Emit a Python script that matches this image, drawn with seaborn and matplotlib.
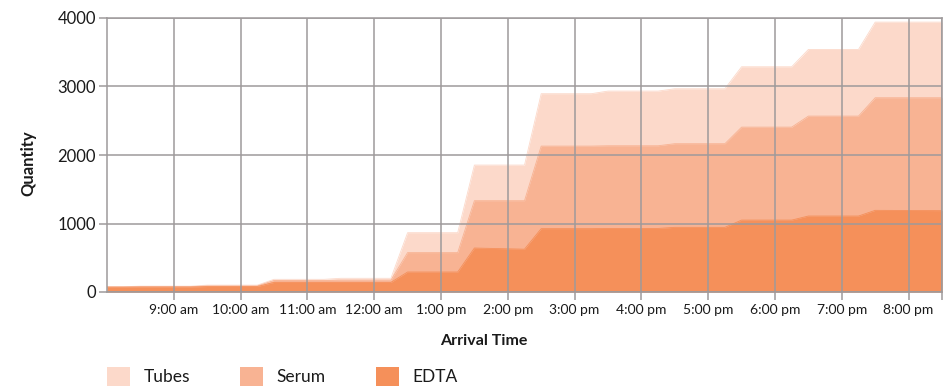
import matplotlib
matplotlib.use("Agg")
import matplotlib.pyplot as plt
from matplotlib.patches import Patch
import pandas as pd
import seaborn as sns

# Cumulative arrivals by time of day
times = ["08:00", "08:15", "08:30", "09:15", "09:30", "10:15", "10:30",
         "11:15", "11:30", "12:15", "12:30", "13:15", "13:30", "14:15",
         "14:30", "15:15", "15:30", "16:15", "16:30", "17:15", "17:30",
         "18:15", "18:30", "19:15", "19:30", "20:30"]
tubes = [78, 78, 85, 85, 100, 100, 185, 185, 200, 200, 866, 866, 1853, 1853,
         2895, 2895, 2933, 2933, 2967, 2967, 3288, 3288, 3541, 3541, 3940, 3940]
serum = [74, 74, 78, 78, 88, 88, 168, 168, 172, 172, 575, 575, 1333, 1333,
         2130, 2130, 2135, 2135, 2165, 2165, 2407, 2407, 2568, 2568, 2836, 2836]
edta = [70, 70, 72, 72, 80, 80, 140, 140, 140, 140, 292, 292, 642, 625,
        925, 925, 928, 928, 944, 944, 1050, 1050, 1109, 1109, 1192, 1188]

tick_hours = [9, 10, 11, 12, 13, 14, 15, 16, 17, 18, 19, 20]
tick_labels = ["9:00 am", "10:00 am", "11:00 am", "12:00 am", "1:00 pm",
               "2:00 pm", "3:00 pm", "4:00 pm", "5:00 pm", "6:00 pm",
               "7:00 pm", "8:00 pm"]
y_ticks = [0, 1000, 2000, 3000, 4000]

series_names = ["Tubes", "Serum", "EDTA"]
colors = {"Tubes": "#FCD9CA", "Serum": "#F8B393", "EDTA": "#F5905A"}

df = pd.DataFrame({"time": times, "Tubes": tubes, "Serum": serum, "EDTA": edta})
td = pd.to_timedelta(df["time"] + ":00")
df["hour"] = td.dt.total_seconds() / 3600.0

sns.set_theme(style="white")
plt.rcParams["font.family"] = ["Lato", "DejaVu Sans"]

fig = plt.figure(figsize=(9.47, 3.87), dpi=100)
ax = fig.add_axes([107 / 947, 1 - 292 / 387, 835 / 947, 274 / 387])

grid_color = "#9E9A9B"

for name in series_names:
    sns.lineplot(data=df, x="hour", y=name, ax=ax, color=colors[name],
                 linewidth=0.6, zorder=2)
    ax.fill_between(df["hour"], 0, df[name], color=colors[name],
                    linewidth=0, zorder=2)

ax.set_xlim(8, 20.5)
ax.set_ylim(0, 4000)
ax.set_xticks(tick_hours + [20.5])
ax.set_xticklabels(tick_labels + [""])
ax.set_yticks(y_ticks)
ax.set_yticklabels([str(v) for v in y_ticks])

ax.grid(True, color=grid_color, linewidth=1.1, zorder=3)
ax.set_axisbelow(False)
for spine in ax.spines.values():
    spine.set_color(grid_color)
    spine.set_linewidth(1.1)
    spine.set_zorder(4)

ax.tick_params(axis="x", which="major", bottom=True, length=5.5, width=1.1,
               color=grid_color, pad=3, labelsize=10, labelcolor="#1a1a1a")
ax.tick_params(axis="y", which="major", left=True, length=6, width=1.1,
               color=grid_color, pad=2, labelsize=12, labelcolor="#1a1a1a")

ax.set_xlabel("Arrival Time", fontsize=11.5, fontweight="bold", color="#1a1a1a")
ax.xaxis.label.set(ha="center", va="center")
ax.xaxis.set_label_coords((484 - 107) / 835, (292 - 341) / 274)

ax.set_ylabel("Quantity", fontsize=12, fontweight="bold", color="#1a1a1a")
ax.yaxis.label.set(ha="center", va="center")
ax.yaxis.set_label_coords((28 - 107) / 835, (292 - 163) / 274)

handles = [Patch(facecolor=colors[n], edgecolor="none", label=n) for n in series_names]
fig.legend(handles=handles, loc="upper left", ncol=3, frameon=False,
           bbox_to_anchor=(107 / 947, 1 - 367 / 387), borderaxespad=0,
           borderpad=0, fontsize=12.5, handlelength=1.3, handleheight=1.3,
           handletextpad=0.8, columnspacing=2.9, labelcolor="#1a1a1a")

fig.savefig("out.png", dpi=100)
